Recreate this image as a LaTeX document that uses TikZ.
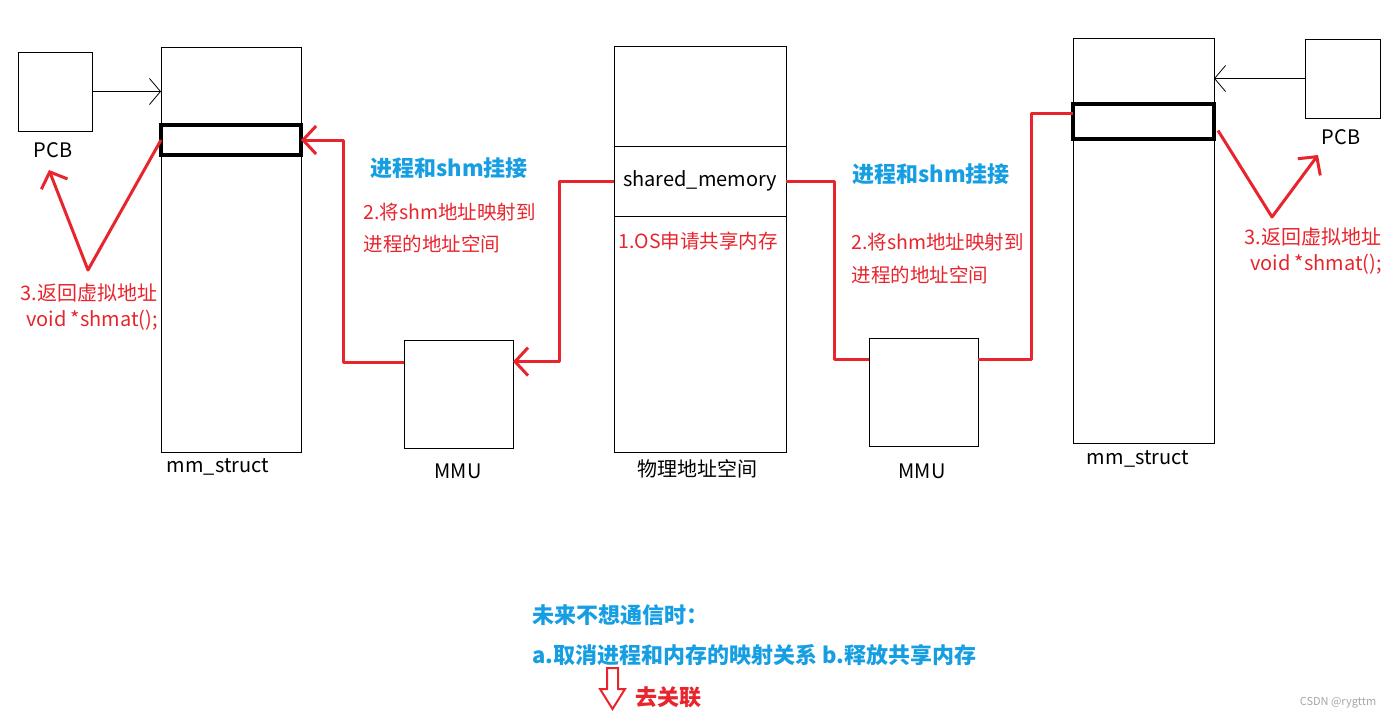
\documentclass[tikz,border=0pt]{standalone}
\usepackage{fontspec}
\setmainfont{Noto Sans CJK SC}
\usetikzlibrary{arrows.meta,calc}
\definecolor{rouge}{RGB}{232,36,44}
\definecolor{bleu}{RGB}{22,158,226}
\begin{document}
\begin{tikzpicture}[x=1pt,y=-1pt,
        boite/.style={draw,rectangle,line width=0.8pt,inner sep=0pt,outer sep=0pt,anchor=north west},
        cadre/.style={boite,line width=3.4pt},
        lien/.style={rouge,line width=3pt,line join=round},
        fleche/.style={-{Straight Barb[length=13pt,width=28pt]}},
        pointe/.style={-{Straight Barb[length=11pt,width=26pt]},line width=0.8pt},
        txt/.style={font=\fontsize{20}{23}\selectfont},
        rtxt/.style={rouge,font=\fontsize{19.5}{23}\selectfont,anchor=west},
        btxt/.style={bleu,font=\bfseries\fontsize{22}{26}\selectfont}]
    \useasboundingbox (0,0) rectangle (1400,721);

    \node[boite,minimum width=74pt,minimum height=79pt] (pcbL) at (18,52){};
    \node[txt] (pcbLtxt) at (53,150){PCB};
    \node[boite,minimum width=140pt,minimum height=405pt] (mmL) at (161,47){};
    \node[cadre,minimum width=140pt,minimum height=30pt] (mapL) at (161,125){};
    \node[txt] (mmLtxt) at (218,467){mm\_struct};
    \node[boite,minimum width=109pt,minimum height=108pt] (mmuL) at (404,340){};
    \node[txt] (mmuLtxt) at (458,471){MMU};

    \node[boite,minimum width=172pt,minimum height=406pt] (phys) at (614,46){};
    \node[boite,minimum width=172pt,minimum height=70pt,txt] (shm) at (614,146){shared\_memory};
    \node[rtxt,anchor=center] (osTxt) at (698,241){1.OS申请共享内存};
    \node[txt] (physTxt) at (697,469){物理地址空间};

    \node[boite,minimum width=109pt,minimum height=108pt] (mmuR) at (869,338){};
    \node[txt] (mmuRtxt) at (922,471){MMU};
    \node[boite,minimum width=141pt,minimum height=405pt] (mmR) at (1073,38){};
    \node[cadre,minimum width=141pt,minimum height=35pt] (mapR) at (1073,104){};
    \node[txt] (mmRtxt) at (1138,459){mm\_struct};
    \node[boite,minimum width=75pt,minimum height=79pt] (pcbR) at (1305,39){};
    \node[txt] (pcbRtxt) at (1341,137){PCB};

    \node[btxt] (titreL) at (449,168){进程和shm挂接};
    \node[rtxt] (mapTxtL) at (360,212){2.将shm地址映射到};
    \node[rtxt] (mapTxtL2) at (360,244){进程的地址空间};
    \node[btxt] (titreR) at (931,174){进程和shm挂接};
    \node[rtxt] (mapTxtR) at (848,242){2.将shm地址映射到};
    \node[rtxt] (mapTxtR2) at (848,275){进程的地址空间};
    \node[txt,rouge] (retL) at (89,293){3.返回虚拟地址};
    \node[txt,rouge] (retL2) at (92,320){void *shmat();};
    \node[txt,rouge] (retR) at (1313,237){3.返回虚拟地址};
    \node[txt,rouge] (retR2) at (1316,264){void *shmat();};

    \draw[pointe] (pcbL.east) -- (pcbL.east -| mmL.west);
    \draw[pointe] (pcbR.west) -- (pcbR.west -| mmR.east);

    \draw[lien,fleche] (shm.west) -- ++(-55,0) |- ($(mmuL.north east)!0.2!(mmuL.south east)$);
    \draw[lien,fleche] ($(mmuL.north west)!0.21!(mmuL.south west)$) -- ++(-61,0) |- (mapL.east);
    \draw[lien] (shm.east) -- ++(48,0) |- ($(mmuR.north west)!0.2!(mmuR.south west)$);
    \draw[lien] ($(mmuR.north east)!0.2!(mmuR.south east)$) -- ++(53,0) |- ($(mapR.north west)!0.26!(mapR.south west)$);

    \coordinate (vL) at (88,270);
    \coordinate (bL) at (49,170);
    \draw[lien,fleche] (mapL.west) -- (vL) -- (bL);
    \coordinate (vR) at (1272,217);
    \coordinate (bR) at (1318,155);
    \draw[lien,fleche] ($(mapR.east)+(4,9)$) -- (vR) -- (bR);

    \node[bleu,font=\bfseries\fontsize{22}{26}\selectfont,anchor=west] (finTxt) at (529,615){未来不想通信时：};
    \node[bleu,font=\bfseries\fontsize{22}{26}\selectfont,anchor=west] (finTxt2) at (529,655){a.取消进程和内存的映射关系 b.释放共享内存};
    \draw[rouge,line width=2pt,line join=miter] (607,668) -- (618,668) -- (618,689) -- (625,689) -- (612.5,709) -- (600,689) -- (607,689) -- cycle;
    \node[rouge,font=\bfseries\fontsize{22}{26}\selectfont] (sepTxt) at (668,697){去关联};
    \node[gray!70,font=\fontsize{11}{13}\selectfont] (marque) at (1338,703){CSDN @rygttm};
\end{tikzpicture}
\end{document}
